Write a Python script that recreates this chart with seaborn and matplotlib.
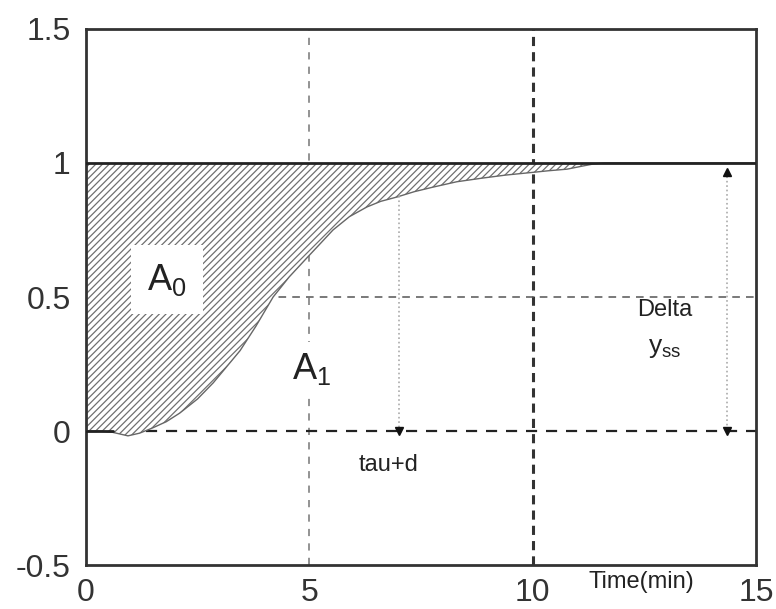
import numpy as np
import pandas as pd
import matplotlib
matplotlib.use("Agg")
import matplotlib.pyplot as plt
import seaborn as sns

# Step response of the process (time in minutes, normalised output)
time_min = [0.0, 0.3, 0.6, 0.94, 1.2, 1.47, 1.8, 2.1, 2.5, 2.85, 3.15, 3.45, 3.8,
            4.19, 4.55, 4.94, 5.25, 5.53, 5.9, 6.29, 6.6, 6.96, 7.35, 7.77, 8.3,
            8.89, 9.4, 9.94, 10.35, 10.77, 11.1, 11.35, 11.6, 15.0]
response = [0.0, 0.0, -0.005, -0.018, -0.008, 0.01, 0.035, 0.067, 0.12, 0.18, 0.24,
            0.30, 0.39, 0.50, 0.575, 0.645, 0.70, 0.75, 0.80, 0.836, 0.857, 0.873,
            0.893, 0.91, 0.93, 0.944, 0.955, 0.964, 0.971, 0.977, 0.988, 0.996,
            1.0, 1.0]

setpoint = 1.0
tau_d = 7.0          # time constant plus dead time
delta_x = 14.35      # where the steady-state change is marked
x_ticks = [0, 5, 10, 15]
x_ticklabels = ["0", "5", "10", "15"]
y_ticks = [-0.5, 0, 0.5, 1, 1.5]
y_ticklabels = ["-0.5", "0", "0.5", "1", "1.5"]

df = pd.DataFrame({"t": time_min, "y": response})

sns.set_style("white")
plt.rcParams["font.family"] = ["Liberation Sans", "DejaVu Sans"]
plt.rcParams["mathtext.fontset"] = "custom"
plt.rcParams["mathtext.rm"] = "Liberation Sans"
plt.rcParams["mathtext.it"] = "Liberation Sans"
plt.rcParams["hatch.linewidth"] = 0.9
plt.rcParams["hatch.color"] = "#707070"

fig = plt.figure(figsize=(7.76, 6.09), dpi=100)
ax = fig.add_axes([0.1108, 0.0722, 0.8634, 0.8802])

# reference grid lines
ax.axvline(5, color="#8a8a8a", lw=1.3, dashes=(4, 4), zorder=1)
ax.axvline(10, color="#333333", lw=2.2, dashes=(3, 2), zorder=1)
ax.axhline(0, color="#222222", lw=1.6, dashes=(5, 4), zorder=1)
ax.axhline(0.5, color="#555555", lw=1.1, dashes=(5, 4), zorder=1)

# hatched area between the response and the setpoint
ax.fill_between(df["t"], df["y"], setpoint, facecolor="white", hatch="/////",
                edgecolor="#707070", linewidth=0, zorder=2)
sns.lineplot(data=df, x="t", y="y", ax=ax, color="#666666", lw=1.0, zorder=3)
ax.plot([0, 0.6], [0, 0], color="#222222", lw=2, zorder=3)
ax.axhline(setpoint, color="#222222", lw=2, zorder=3)

# tau + d marker
y_at_tau = float(np.interp(tau_d, time_min, response))
ax.plot([tau_d, tau_d], [y_at_tau, 0], color="#aaaaaa", lw=1.2, ls=":", zorder=3)
ax.plot(tau_d, 0, marker="v", ms=6, color="#111111", zorder=4)

# steady-state change marker
ax.plot([delta_x, delta_x], [0.965, 0], color="#aaaaaa", lw=1.2, ls=":", zorder=3)
ax.plot(delta_x, 0.965, marker="^", ms=6, color="#111111", zorder=4)
ax.plot(delta_x, 0, marker="v", ms=6, color="#111111", zorder=4)

# annotations
ax.text(1.81, 0.565, r"$\mathrm{A}_{\mathrm{0}}$", fontsize=26, ha="center", va="center",
        color="#222222", zorder=5,
        bbox=dict(boxstyle="square,pad=0.45", facecolor="white", edgecolor="none"))
ax.text(5.05, 0.23, r"$\mathrm{A}_{\mathrm{1}}$", fontsize=26, ha="center", va="center",
        color="#222222", zorder=5,
        bbox=dict(boxstyle="square,pad=0.25", facecolor="white", edgecolor="none"))
ax.text(6.78, -0.127, "tau+d", fontsize=17, ha="center", va="center", color="#222222", zorder=5)
ax.text(12.96, 0.45, "Delta", fontsize=17, ha="center", va="center", color="#222222", zorder=5)
ax.text(12.96, 0.31, r"$\mathrm{y}_{\mathrm{ss}}$", fontsize=19, ha="center", va="center",
        color="#222222", zorder=5)
ax.text(12.43, -0.565, "Time(min)", fontsize=17, ha="center", va="center",
        color="#222222", clip_on=False)

ax.set_xlim(0, 15)
ax.set_ylim(-0.5, 1.5)
ax.set_xticks(x_ticks)
ax.set_xticklabels(x_ticklabels)
ax.set_yticks(y_ticks)
ax.set_yticklabels(y_ticklabels)
ax.tick_params(axis="both", length=0, labelsize=23, colors="#333333")
ax.tick_params(axis="x", pad=9)
ax.tick_params(axis="y", pad=11)
ax.set_xlabel("")
ax.set_ylabel("")
for sp in ax.spines.values():
    sp.set_color("#333333")
    sp.set_linewidth(2)
    sp.set_visible(True)
ax.grid(False)

fig.savefig("out.png", dpi=100)
